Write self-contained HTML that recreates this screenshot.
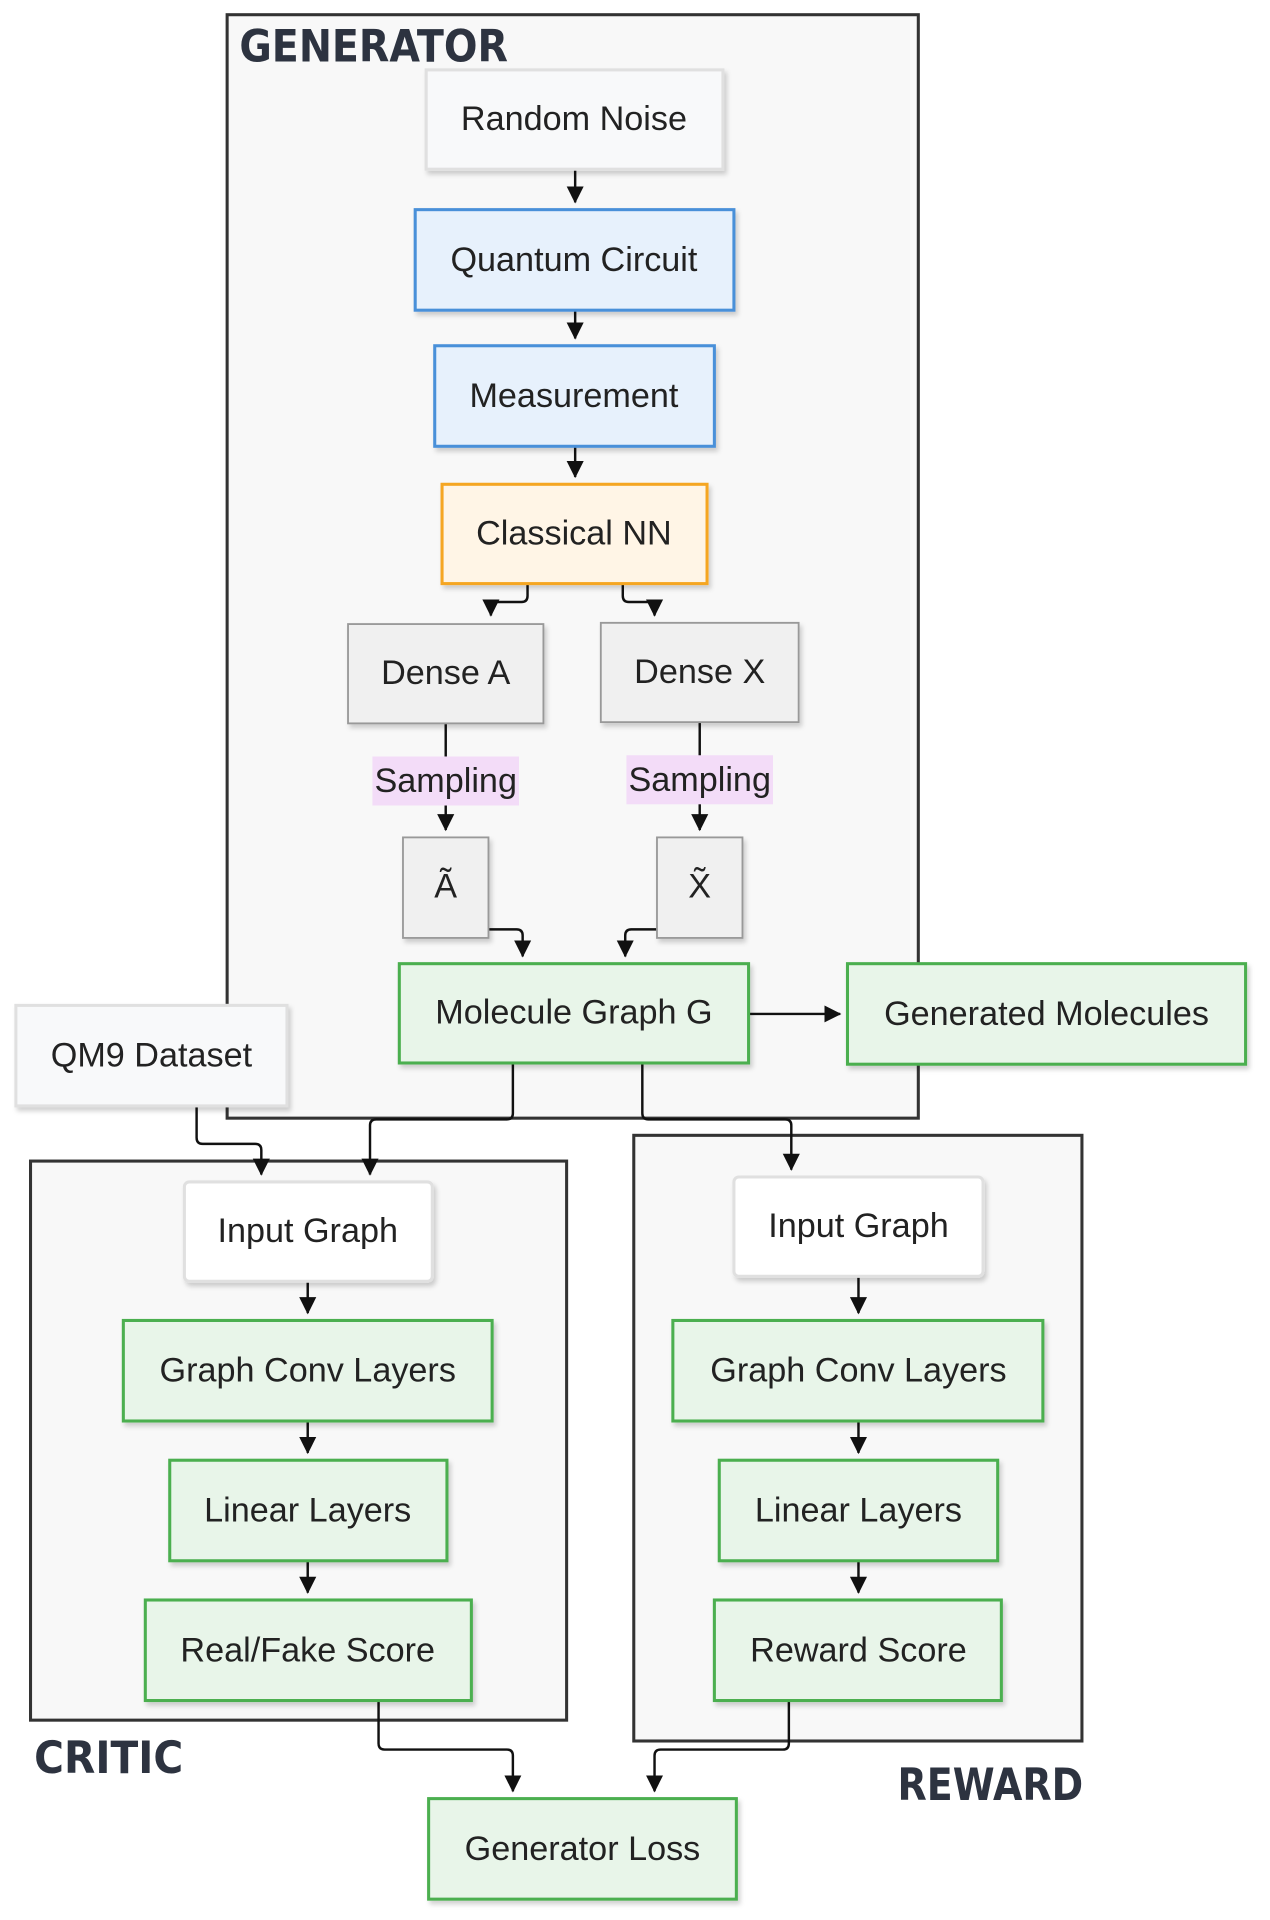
<!DOCTYPE html>
<html><head><meta charset="utf-8"><style>
html,body{margin:0;padding:0;background:#fff;}
svg{display:block;}
text{font-family:"Liberation Sans",sans-serif;fill:#222;}
.t{font-size:28px;text-anchor:middle;dominant-baseline:central;}
.h{font-family:"DejaVu Sans","Liberation Sans",sans-serif;font-size:36px;font-weight:bold;fill:#2d3340;}
.ln{fill:none;stroke:#111;stroke-width:2;}
</style></head><body>
<svg width="1270" height="1920" viewBox="0 0 1040 1566" preserveAspectRatio="none" xmlns="http://www.w3.org/2000/svg">
<defs>
<marker id="a" markerWidth="16" markerHeight="16" refX="13" refY="8" orient="auto" markerUnits="userSpaceOnUse" viewBox="0 0 16 16"><path d="M0,1L14,8L0,15z" fill="#111"/></marker>
<filter id="s" x="-10%" y="-10%" width="130%" height="140%"><feDropShadow dx="2" dy="3" stdDeviation="2" flood-color="#000" flood-opacity="0.18"/></filter>
</defs>
<rect x="186" y="12" width="566" height="900" fill="#f8f8f8" stroke="#333" stroke-width="2.5"/>
<text class="h" x="196" y="50" textLength="220" lengthAdjust="spacingAndGlyphs">GENERATOR</text>
<rect x="25" y="947" width="439" height="456" fill="#f8f8f8" stroke="#333" stroke-width="2.5"/>
<text class="h" x="28" y="1446" textLength="122" lengthAdjust="spacingAndGlyphs">CRITIC</text>
<rect x="519" y="926" width="367" height="494" fill="#f8f8f8" stroke="#333" stroke-width="2.5"/>
<text class="h" x="735" y="1468" textLength="152" lengthAdjust="spacingAndGlyphs">REWARD</text>

<g class="ln">
<path d="M471,138V165" marker-end="url(#a)"/>
<path d="M471,253V276" marker-end="url(#a)"/>
<path d="M471,364V389" marker-end="url(#a)"/>
<path d="M432,476V486Q432,491 427,491H402V502" marker-end="url(#a)"/>
<path d="M510,476V486Q510,491 515,491H536V502" marker-end="url(#a)"/>
<path d="M365,590V677" marker-end="url(#a)"/>
<path d="M573,589V677" marker-end="url(#a)"/>
<path d="M400,758H423Q428,758 428,763V780" marker-end="url(#a)"/>
<path d="M538,758H517Q512,758 512,763V780" marker-end="url(#a)"/>
<path d="M613,827H688" marker-end="url(#a)"/>
<path d="M420,867V908Q420,913 415,913H308Q303,913 303,918V958" marker-end="url(#a)"/>
<path d="M526,867V908Q526,913 531,913H643Q648,913 648,918V954" marker-end="url(#a)"/>
<path d="M161,902V928Q161,933 166,933H209Q214,933 214,938V958" marker-end="url(#a)"/>
<path d="M252,1045V1071" marker-end="url(#a)"/>
<path d="M252,1159V1185" marker-end="url(#a)"/>
<path d="M252,1273V1299" marker-end="url(#a)"/>
<path d="M703,1041V1071" marker-end="url(#a)"/>
<path d="M703,1159V1185" marker-end="url(#a)"/>
<path d="M703,1273V1299" marker-end="url(#a)"/>
<path d="M310,1387V1422Q310,1427 315,1427H415Q420,1427 420,1432V1461" marker-end="url(#a)"/>
<path d="M646,1387V1422Q646,1427 641,1427H541Q536,1427 536,1432V1461" marker-end="url(#a)"/>
</g>
<rect x="305" y="617" width="120" height="40" fill="#f3dcf8"/>
<text class="t" x="365" y="637">Sampling</text>
<rect x="513" y="616" width="120" height="40" fill="#f3dcf8"/>
<text class="t" x="573" y="636">Sampling</text>

<g filter="url(#s)" stroke-width="2.5">
<rect x="349" y="57" width="243" height="81" fill="#f8f9fa" stroke="#e0e0e0"/>
<rect x="340" y="171" width="261" height="82" fill="#e7f1fc" stroke="#4a90d9"/>
<rect x="356" y="282" width="229" height="82" fill="#e7f1fc" stroke="#4a90d9"/>
<rect x="362" y="395" width="217" height="81" fill="#fff5e6" stroke="#f5a623"/>
<rect x="285" y="509" width="160" height="81" fill="#f0f0f0" stroke="#999" stroke-width="1.5"/>
<rect x="492" y="508" width="162" height="81" fill="#f0f0f0" stroke="#999" stroke-width="1.5"/>
<rect x="330" y="683" width="70" height="82" fill="#f0f0f0" stroke="#999" stroke-width="1.5"/>
<rect x="538" y="683" width="70" height="82" fill="#f0f0f0" stroke="#999" stroke-width="1.5"/>
<rect x="327" y="786" width="286" height="81" fill="#e8f5e9" stroke="#4caf50"/>
<rect x="694" y="786" width="326" height="82" fill="#e8f5e9" stroke="#4caf50"/>
<rect x="13" y="820" width="222" height="82" fill="#f8f9fa" stroke="#e0e0e0"/>
<rect x="151" y="964" width="203" height="81" rx="4" fill="#fff" stroke="#e0e0e0"/>
<rect x="101" y="1077" width="302" height="82" fill="#e8f5e9" stroke="#4caf50"/>
<rect x="139" y="1191" width="227" height="82" fill="#e8f5e9" stroke="#4caf50"/>
<rect x="119" y="1305" width="267" height="82" fill="#e8f5e9" stroke="#4caf50"/>
<rect x="601" y="960" width="204" height="81" rx="4" fill="#fff" stroke="#e0e0e0"/>
<rect x="551" y="1077" width="303" height="82" fill="#e8f5e9" stroke="#4caf50"/>
<rect x="589" y="1191" width="228" height="82" fill="#e8f5e9" stroke="#4caf50"/>
<rect x="585" y="1305" width="235" height="82" fill="#e8f5e9" stroke="#4caf50"/>
<rect x="351" y="1467" width="252" height="82" fill="#e8f5e9" stroke="#4caf50"/>
</g>
<text class="t" x="470" y="97">Random Noise</text>
<text class="t" x="470" y="212">Quantum Circuit</text>
<text class="t" x="470" y="323">Measurement</text>
<text class="t" x="470" y="435">Classical NN</text>
<text class="t" x="365" y="549">Dense A</text>
<text class="t" x="573" y="548">Dense X</text>
<text class="t" x="365" y="723">Ã</text>
<text class="t" x="573" y="723">X̃</text>
<text class="t" x="470" y="826">Molecule Graph G</text>
<text class="t" x="857" y="827">Generated Molecules</text>
<text class="t" x="124" y="861">QM9 Dataset</text>
<text class="t" x="252" y="1004">Input Graph</text>
<text class="t" x="252" y="1118">Graph Conv Layers</text>
<text class="t" x="252" y="1232">Linear Layers</text>
<text class="t" x="252" y="1346">Real/Fake Score</text>
<text class="t" x="703" y="1000">Input Graph</text>
<text class="t" x="703" y="1118">Graph Conv Layers</text>
<text class="t" x="703" y="1232">Linear Layers</text>
<text class="t" x="703" y="1346">Reward Score</text>
<text class="t" x="477" y="1508">Generator Loss</text>
</svg>
</body></html>
